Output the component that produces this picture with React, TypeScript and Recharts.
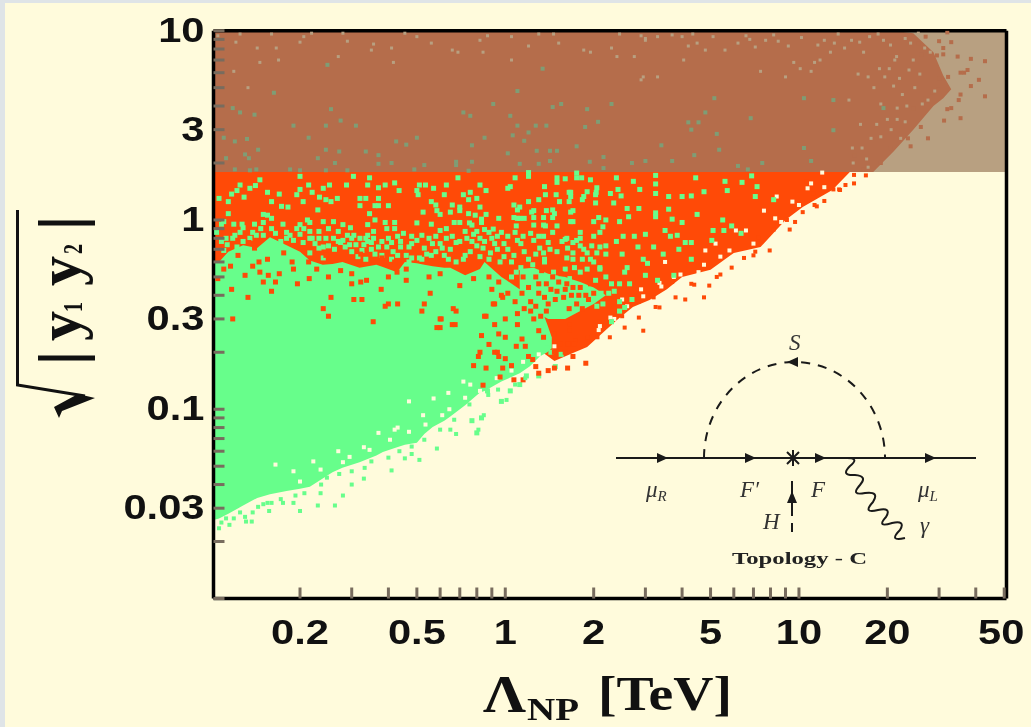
import { ComposedChart, XAxis, YAxis, Area, Scatter, ReferenceLine } from 'recharts';

type Pt = [number, number];

const xTicks = [0.2, 0.3, 0.4, 0.5, 0.6, 0.7, 0.8, 0.9, 1, 2, 3, 4, 5, 6, 7, 8, 9, 10, 20, 30, 40, 50];
const xLabels = [0.2, 0.5, 1, 2, 5, 10, 20, 50];
const yTicks = [0.01, 0.02, 0.03, 0.04, 0.05, 0.06, 0.07, 0.08, 0.09, 0.1, 0.2, 0.3, 0.4, 0.5, 0.6, 0.7, 0.8, 0.9, 1, 2, 3, 4, 5, 6, 7, 8, 9, 10];
const yLabels = [0.03, 0.1, 0.3, 1, 3, 10];

// brown / tan band
const bandX = [0.1015, 17.9, 21, 24.5, 28.7, 31, 33];
const brownLow = [1.79, 1.79, 2.3, 3.0, 4.0, 4.4, 4.9];
const brownHigh = [10, 10, 10, 9.7, 7.7, 5.8, 4.9];

// solid red region, lower edge
const redX = [0.1015, 0.85, 1.12, 1.31, 1.47, 1.7, 1.9, 2.2, 2.4, 2.72, 3.1, 3.55, 4, 5, 6, 7.4, 9, 10.3, 13, 14.9];
const redLow = [0.3, 0.3, 0.3, 0.205, 0.18, 0.198, 0.213, 0.262, 0.296, 0.347, 0.378, 0.43, 0.5, 0.545, 0.67, 0.72, 1, 1.17, 1.44, 1.79];

// solid green region
const greenX = [0.1016, 0.106, 0.114, 0.128, 0.143, 0.158, 0.18, 0.2, 0.216, 0.239, 0.258, 0.279, 0.319, 0.364, 0.383, 0.428, 0.455, 0.5, 0.53, 0.566, 0.62, 0.65, 0.73, 0.82, 0.85, 0.97, 1.01, 1.12, 1.21, 1.31, 1.39, 1.44];
const greenLow = [0.026, 0.0265, 0.028, 0.031, 0.034, 0.0355, 0.037, 0.038, 0.039, 0.043, 0.0465, 0.049, 0.0525, 0.057, 0.0595, 0.063, 0.065, 0.0665, 0.074, 0.0805, 0.087, 0.0915, 0.105, 0.1225, 0.125, 0.14, 0.144, 0.155, 0.168, 0.19, 0.2, 0.21];
const greenHigh = [0.6, 0.6, 0.68, 0.735, 0.71, 0.81, 0.735, 0.68, 0.61, 0.58, 0.585, 0.6, 0.56, 0.58, 0.565, 0.53, 0.6, 0.59, 0.58, 0.57, 0.56, 0.56, 0.51, 0.55, 0.6, 0.5, 0.48, 0.43, 0.4, 0.36, 0.28, 0.24];

// green patch inside the red/green web
const patchX = [1.12, 1.25, 1.4, 1.6, 1.8, 2, 2.2];
const patchLow = [0.3, 0.33, 0.3, 0.3, 0.33, 0.36, 0.4];
const patchHigh = [0.55, 0.56, 0.52, 0.5, 0.47, 0.44, 0.4];

const tanSpecks: Pt[] = [[.105,9.4],[.121,8.7],[.125,9.6],[.143,8.1],[.16,9.6],[.166,8.1],[.146,6.8],[.169,7],[.2,8.7],[.206,9.3],[.219,9.7],[.28,9.7],[.29,8.8],[.27,7.3],[.35,7.9],[.356,8.5],[.41,8.1],[.416,6.8],[.455,9.7],[.5,9.3],[.56,8.6],[.66,7.9],[.69,7.7],[.82,8.9],[.84,7.7],[.87,9.4],[1.05,9.3],[1.05,7],[.133,5],[.119,6.1],[1.2,8.3],[1.3,9.6],[1.46,9.6],[1.52,8.6],[1.85,7.9],[1.95,7.7],[2.3,8.1],[2.4,7.3],[2.45,9.6],[3.0,8.9],[3.3,9.3],[3.7,9.5],[4,9.3],[4.5,8.6],[4.8,7.9],[5.1,9.3],[5.6,7.9],[6.2,8.6],[7.1,8.2],[7.7,8.9],[9.6,6.8],[10.1,6.3],[11.3,6.8],[11.6,8.4],[12.8,7.7],[13.6,9.6],[15.1,8.9],[17.4,9.3],[18.8,6.3],[20.5,8.4],[23,9.1],[25.5,9.7],[28,7.7],[30.5,6.6],[22,5.6],[18,5],[14.8,4.3],[19,4.1],[20,3.4],[20.6,3],[23,3.3],[22.2,2.7],[17.6,2.7],[15.2,2.4],[16.4,2.4],[19,2.75],[17,2.1],[15.3,2],[17.2,1.9],[24.5,7],[22.5,4.6],[21,5.1],[24.8,5],[26.3,4.1],[29,4.8],[27.5,4.3],[11.8,7],[11,6.1],[9,5.7],[7.4,6.1],[4.05,7],[2.95,5.7],[2.9,5.5],[3.3,5.7],[2.75,7.3],
  [2.9,9.4],[3,9.1],[4.35,9.6],[4.2,8.3],[6.6,9.4],[6.8,9],[8.2,9.5],[8.5,8.8],[9.2,8.3],[10.2,9.2],[12.2,8.9],[13.2,8.6],[14.3,8.1],[16.1,8.7],[16.6,7.7],[18.6,9.6],[19.4,8.9],[21.5,7.3],[21.2,7],[24,8.6],[26.8,8.1],[27.6,8.9],[29.6,8.4],[30.8,9.3],[23.7,6.2],[25.8,5.9],[20.3,6.3],[17.2,5.7],[15.9,5.9],[19.6,5.7],[21.6,3.9],[23.3,4],[18.4,3.2],[21.6,3.4],[16.2,3.2]];

const mutedGreen: Pt[] = [[.248,6.6],[.163,4.7],[.118,3.9],[.125,3.7],[.14,3.6],[.255,3.85],[.19,3.15],[.245,3.15],[.275,3.35],[.31,3.15],[.11,2.72],[.12,2.6],[.132,2.68],[.144,2.35],[.214,2.72],[.245,2.35],[.272,2.3],[.112,2.12],[.13,2.22],[.134,2.12],[.23,2.12],[.263,2],[.335,2.3],[.37,2.2],[.37,1.98],[.41,2],[.425,2.6],[.46,2.5],[.5,2.72],[.72,3.7],[.76,3.55],[.91,4.1],[1.04,3.55],[.85,2.72],[1.06,2.8],[.77,2.48],[.68,2.03],[.77,2.03],[1.02,2.25],[.12,1.85],[.135,1.83],[.142,1.85],[.185,1.85],[.2,1.83],[.245,1.83],[.29,1.83],[.49,1.85],[.53,1.95],[.68,1.95],[.75,1.82],[1.34,6.3],[1.1,4.8],[1.55,4.1],[1.45,3.95],[1.9,3.85],[2.3,4.1],[2.07,3.3],[1.87,3.1],[1.27,3.15],[1.38,3.15],[1.1,3.15],[1.2,2.9],[1.16,2.62],[1.75,2.45],[1.28,2.32],[1.42,2.32],[1.5,2.32],[1.42,2.05],[1.3,1.98],[1.12,1.98],[1.94,2.03],[2.16,2.15],[2.16,1.88],[2.7,2],[3.0,2.05],[3.7,2.05],[4.4,2.2],[3.4,2.48],[4.2,3.28],[4.55,3.28],[4.3,3],[4.8,3.7],[5.15,4.4],[5.25,2.85],[5.35,2.35],[6.85,3.45],[6.2,1.93],[6.7,1.85],[7.5,2],[10.4,4.4],[13.1,4.3],[19.4,3.9],[13.1,2.98],[10.4,2.4],[11,2.05]];

const brownOutliers: Pt[] = [[43,4.5],[41,5.5],[38.5,5.1],[35.5,4.6],[35,4.3],[33,3.9],[32,3.85],[35.5,3.45],[31.2,3.35],[27.5,2.7],[23.5,2.7],[24,2.45],[26,3.1],[43,6.9],[38.5,7.1],[34.7,7.3],[31,7.5],[33,8.7],[31,8.1],[30,8.8],[29.5,7.4],[27,9.3],[25.5,8.6],[37.5,6.2],[35.5,6],[32.2,5.7],[32,9.8],[26.2,7.5],[30,5.6],[36.5,6],[29.8,4.9],[28.4,4.7],[24.5,3.9],[27,4.4],[20.5,2.4],[19,2],[16.6,1.85],[15.5,2.2]];

const greenInRed: Pt[] = [
  [.106,1.3],[.114,1.25],[.117,1.37],[.125,1.53],[.122,1.43],[.129,1.32],[.135,1.47],[.141,1.52],[.146,1.63],[.155,1.4],[.17,1.37],[.16,1.25],[.173,1.18],[.182,1.17],[.2,1.7],[.2,1.45],[.195,1.36],[.205,1.25],[.214,1.53],[.22,1.4],[.233,1.32],[.24,1.47],[.252,1.53],[.245,1.28],[.255,1.25],[.268,1.3],[.23,1.13],[.288,1.53],[.304,1.7],[.34,1.53],[.345,1.67],[.37,1.48],[.39,1.53],[.42,1.57],[.435,1.43],[.32,1.3],[.335,1.3],[.32,1.19],[.37,1.3],[.36,1.19],[.37,1.19],[.4,1.19],[.345,1.08],[.36,1],[.114,1.08],[.11,.98],[.119,.95],[.127,.95],[.108,.95],[.15,1.07],[.16,1.02],[.155,1.06],[.212,1],[.2,.945],[.216,.97],[.206,.9],[.26,.98],[.28,.945],[.24,.98],[.34,.945],[.39,.97],[.42,.97],[.297,.91],[.356,.87],
  [.12,.83],[.128,.91],[.14,.95],[.15,.97],[.147,.9],[.142,.83],[.175,.95],[.195,.9],[.185,.83],[.216,.87],[.232,.87],[.25,.9],[.27,.87],[.29,.83],[.305,.83],[.34,.83],[.356,.8],[.395,.9],[.42,.9],[.45,.85],[.108,.77],[.118,.8],[.128,.77],[.15,.83],[.16,.77],[.172,.77],[.216,.8],[.232,.8],[.27,.77],[.32,.8],[.34,.77],[.38,.77],[.4,.8],[.44,.77],[.245,.8],[.295,.74],[.335,.8],[.47,.72],[.11,.69],[.232,.71],[.25,.73],[.275,.76],[.3,.68],[.35,.7],[.38,.65],[.43,.65],[.216,.67],[.24,.63],[.325,.69],[.415,.68],
  [.51,1.53],[.5,1.43],[.505,1.36],[.535,1.53],[.57,1.47],[.63,1.53],[.69,1.67],[.76,1.4],[.82,1.53],[.8,1.3],[.86,1.43],[.72,1.36],[.75,1.28],[.62,1.36],[.56,1.25],[.58,1.2],[.66,1.2],[.7,1.17],[.82,1.17],[1.08,1.67],[1.04,1.5],[1.02,1.47],[1.2,1.78],[1.5,1.58],[1.6,1.65],[1.75,1.77],[1.95,1.63],[2.05,1.48],[2.04,1.4],[1.49,1.36],[1.53,1.25],[1.65,1.4],[1.65,1.25],[1.83,1.28],[2.03,1.36],[1.3,1.28],[1.2,1.25],[1.07,1.2],[1.12,1.17],[1.1,1.13],
  [.525,1.1],[.585,1.12],[.6,1.07],[.65,1.1],[.7,1.12],[.75,1.08],[.79,1.06],[.83,1.01],[.86,1.07],[.95,1.02],[1.07,1.03],[1.12,1.02],[1.16,1.02],[1.25,1.12],[1.25,1.03],[1.38,1.12],[1.35,1.03],[1.47,1.08],[1.7,1.12],[1.67,.98],[2.08,1.03],[2,.98],[2.15,.92],[.5,.965],[.56,.95],[.6,.88],[.63,.9],[.67,.97],[.7,.97],[.755,.965],[.77,.94],[.83,.97],[.91,.895],[.85,.89],[.8,.87],[1.09,.93],[1.25,.94],[1.35,.94],[1.5,.93],[.52,.83],[.66,.82],[.73,.87],[.97,.86],[1.08,.86],[1.22,.85],[1.35,.82],[1.45,.86],[1.62,.8],[1.8,.86],[2.1,.86],[1.75,.78],
  [.48,.75],[.53,.71],[.565,.75],[.6,.75],[.7,.77],[.77,.77],[.85,.77],[.9,.8],[.99,.75],[1.13,.75],[1.25,.78],[1.31,.71],[1.42,.7],[1.63,.71],[1.8,.73],[1.97,.73],[2.2,.73],[.48,.63],[.51,.63],[.56,.65],[.62,.65],[.65,.7],[.73,.65],[.82,.64],[.89,.67],[.94,.7],[.99,.64],[1.07,.65],[1.62,.63],[1.83,.62],[2.05,.67],[1.09,.53],[1.2,.53],[1.31,.52],[1.46,.53],[1.6,.55],[1.8,.53],[2.1,.55],[1.26,.47],[1.5,.46],[1.66,.49],[1.8,.45],[2.03,.48],
  [2.12,.41],[1.03,.44],[1.9,.37],[2.05,.35],[2.3,.29],[2.15,.36],[2.45,.33],[2.7,.38],[2.55,.345],[1.39,.21],[1.48,.168],[1.43,.2],[1.55,.195],[1.18,.15],[1.3,.15],[1.12,.135],[1.04,.125],[.97,.11],[.87,.125],[.83,.09],[.77,.087],[.8,.075],
  [1.2,1.7],[1.5,1.67],[1.75,1.67],[1.82,1.67],[2.39,1.67],[2.73,1.6],[3.25,1.72],[3.25,1.55],[4.45,1.67],[5.6,1.6],[6.4,1.58],[6.9,1.71],[7.2,1.5],[1.36,1.5],[1.67,1.4],[1.9,1.41],[2.28,1.38],[2.42,1.45],[2.87,1.45],[3.25,1.38],[2.48,1.34],[1.85,1.33],[1.67,1.33],[1.37,1.36],[3.6,1.33],[4,1.33],[4.3,1.34],[4.75,1.41],[5.7,1.43],[7.1,1.33],[8.2,1.28],
  [1.23,1.1],[1.45,1.13],[1.67,1.1],[2.03,1.23],[2.34,1.23],[2.85,1.15],[2.6,1.15],[3.25,1.09],[3.6,1.14],[4.5,1.07],[5.5,1],[5.9,.93],[4,.97],[3.7,1.01],[3.25,1.04],[2.63,1.04],[2.45,.98],[2.2,1],[1.7,.98],[1.45,1.03],[1.1,1.02],[1.37,.93],[5.1,.88],[5.55,.88],[6.35,.85],[3.5,.88],[3,.84],[2.75,.82],[2.52,.82],[2.39,.77],[2,.82],[1.8,.8],[1.6,.79],[1.3,.82],[3.85,.83],[3.65,.82],
  [5.05,.78],[4.3,.76],[4.1,.76],[3.2,.72],[3.9,.7],[2.83,.72],[2.1,.72],[1.85,.7],[1.7,.67],[1.35,.67],[3.45,.66],[2.5,.66],[2.2,.66],[2.95,.62],[4.3,.62],[3.05,.59],[1.7,.62],[1.95,.62],[2.6,.56],[2.1,.56],[3,.51],[3.75,.51],[3.3,.48],[2.55,.53],[2.3,.46],[2.45,.46],[2.65,.46],[2.25,.41],[2.45,.37],
  // denser patches of the transition band
  [.104,.86],[.113,.74],[.122,.72],[.135,.8],[.138,.86],[.165,.85],[.18,.86],[.19,.78],[.205,.76],[.225,.75],[.24,.72],[.262,.7],[.285,.72],[.31,.74],[.315,.64],[.335,.62],[.36,.66],[.37,.72],[.395,.72],[.41,.62],[.44,.72],[.46,.65],[.47,.6],[.52,.62],[.54,.66],[.58,.68],[.61,.71],[.64,.62],[.68,.6],[.72,.62],[.76,.68],[.8,.73],[.84,.71],[.88,.62],[.92,.75],[.96,.6],[1.02,.7],[1.05,.6],[1.1,.78],[1.16,.68],[1.2,.62],[1.27,.66],[1.36,.6],[1.5,.68],[1.56,.77],[1.72,.56],[1.9,.67],[1.05,.5],[1.13,.56],[1.17,.46],[1.24,.58],[1.36,.62],[1.9,.55],[2,.6],[2.2,.5],[2.35,.42],
  [.112,.8],[.125,.86],[.16,.9],[.18,.8],[.2,.84],[.22,.8],[.26,.8],[.28,.78],[.3,.8],[.33,.74],[.35,.76],[.41,.76],[.43,.82],[.48,.82],[.5,.78],[.55,.8],[.58,.82],[.63,.8],[.68,.76],[.74,.8],[.78,.84],[.82,.8],[.88,.86],[.94,.82],[1.02,.82],[1.15,.82],[1.4,.76],[1.7,.76]
];

const redInGreen: Pt[] = [
  [.116,.57],[.138,.57],[.146,.53],[.15,.47],[.13,.51],[.156,.51],[.188,.6],[.196,.46],[.214,.6],[.228,.55],[.215,.49],[.275,.54],[.3,.52],[.3,.46],[.322,.47],[.337,.48],[.378,.43],[.428,.53],[.46,.55],[.42,.6],[.176,.67],[.245,.65],[.322,.66],[.38,.63],[.14,.71],[.134,.76],[.155,.62],[.123,.65],[.105,.49],[.117,.43],[.133,.39],[.17,.52],[.165,.47],[.16,.42],[.255,.39],[.325,.38],[.24,.34],[.4,.36],[.43,.36],[.46,.48],
  [.25,.31],[.355,.29],[.39,.35],[.305,.38],[.118,.3],[.555,.41],[.53,.36],[.52,.33],[.6,.3],[.66,.28],[.6,.27],[.68,.33],[.86,.31],[.91,.36],[.97,.4],[.95,.25],[.88,.22],[.82,.2],[.94,.2],
  [.665,.34],[.605,.3],[.675,.28],[.585,.27],[.85,.31],[.92,.36],[1,.3],[.83,.245],[1,.24],[1.14,.235],[1.1,.28],[.92,.2],[.81,.19],[.78,.17],[.86,.165],[.95,.19],[1,.185],[1.05,.17],[.98,.165],[1.09,.215],[1.17,.215],[1.2,.19],[1.24,.183],[1.27,.168],[1.4,.16],[.96,.148],[1.07,.143],[1.15,.143],[.84,.134],[1.3,.155],
  [.98,.39],[1.16,.34],[1.25,.3],[1.32,.31],[1.38,.33],[1.47,.25],[1.35,.24],[1.54,.22],[1.64,.22],[1.72,.22],[1.47,.2],[1.6,.2],[1.7,.19],[1.88,.175],[1.63,.165],[1.47,.165],
  [.9,.43],[.95,.47],[1.02,.41],[1.08,.37],[1.14,.41],[.88,.5],[1,.52],[.78,.49],[.7,.45],[.6,.52],[.55,.5],[.4,.5],[.25,.5],[.19,.55],[.145,.6],[.11,.55],[1.22,.33],[1.3,.26],[1.1,.32],[.92,.28],
  [1.15,.5],[1.2,.44],[1.27,.5],[1.33,.54],[1.38,.46],[1.45,.5],[1.5,.42],[1.55,.52],[1.62,.46],[1.68,.4],[1.72,.5],[1.8,.44],[1.88,.4],[1.95,.46],[2,.41],[1.22,.37],[1.3,.41],[1.4,.36],[1.48,.38],[1.58,.39],[1.65,.34],[1.75,.36],[1.83,.34],[1.92,.38],[1.3,.46],[1.43,.43],[1.52,.47],[1.6,.43],[1.7,.44],[1.78,.4],[1.27,.35],[1.36,.39]
];

const redOutliers: Pt[] = [[16.9,1.72],[15.4,1.73],[15.4,1.56],[14.4,1.53],[13.7,1.45],[13.1,1.45],[12.2,1.26],[11.5,1.18],[11.2,1.38],[10.3,1.1],[9.3,.89],[8.2,.89],[9.1,1],[7.3,.81],[7.1,.68],[7,.65],[5.9,.56],[5.25,.5],[4.95,.45],[4.75,.39],[4.1,.38],[3.35,.345],[3.2,.39],[2.95,.26],[2.3,.29],[2.06,.24],[1.74,.23],[1.65,.28],[4.3,.46],[3.7,.47],[2.85,.37],[2.5,.31],[2.1,.29],[1.9,.24],[1.65,.26],[10.6,1.59],
  [13.8,1.44],[11.3,1.2],[9.7,.976],[7.95,.69],[6.5,.63],[5.4,.515],[4.4,.455],[3.8,.39],[3.25,.347],[2.85,.305],[2.55,.27],[2.27,.24]];

const creamHoles: Pt[] = [[12,1.78],[11,1.56],[10.7,1.47],[9.5,1.25],[8.4,1.33],[7.6,1.12],[8.3,1.02],[6.1,.88],[6.6,.88],[5.2,.75],[4.8,.69],[5.4,.64],[3.5,.6],[4.55,.53],[3.75,.5],[3.35,.465],[2.9,.43],[2.5,.38],[2.45,.33],[2.35,.3],[2.1,.275],[1.47,.215],[1.3,.195],[.37,.075],[.43,.08],[.47,.11],[.525,.093],[.57,.114],[.165,.051],[.222,.053],[.19,.047],[.27,.06],[.295,.056],[.33,.063],[.42,.078],[.64,.122],[.72,.14],[.76,.135],[.82,.125],[.61,.093],
  [.2,.0415],[.235,.048],[.28,.0525],[.345,.061],[.405,.069],[.47,.076],[.535,.083],[.645,.1],[.73,.115],[.935,.146],[1.05,.16],[1.15,.178],
  [12.2,1.49],[10,1.2],[8.7,.976],[7,.75],[5.8,.69],[4.75,.58],[3.95,.515],[3.4,.445],[2.95,.395],[2.6,.35],[2.28,.305],[2.08,.262]];

const greenOutliers: Pt[] = [[.106,.0235],[.115,.0245],[.131,.0255],[.137,.0255],[.138,.0285],[.125,.0285],[.157,.029],[.2,.029],[.23,.031],[.263,.031],[.28,.035],[.235,.036],[.33,.043],[.3,.04],[.41,.0475],[.51,.054],[.455,.055],[.585,.062],[.68,.074],[.81,.078],[.65,.078],[1.01,.112],[.845,.093],[.48,.058],[.175,.032],[.19,.032],[.155,.032],[.13,.027],
  [.108,.0252],[.112,.0265],[.119,.0265],[.144,.0305],[.15,.0315],[.16,.032],[.172,.0335],[.193,.035],[.207,.036],[.236,.04],[.247,.0435],[.272,.0455],[.3,.047],[.332,.049],[.35,.053],[.4,.0555],[.436,.06],[.48,.0635],[.53,.069],[.6,.078],[.67,.088],[.755,.106],[.875,.119],[.945,.127],[1.08,.135],[1.17,.146]];

const toPoints = (pts: Pt[]) => pts.map(([x, y]) => ({ x, y }));
const toBand = (xs: number[], lo: number[], hi: number[]) => xs.map((x, i) => ({ x, band: [lo[i], hi[i]] }));
const square = (size: number, fill: string) => (p: any) => (
  <rect x={p.cx - size / 2} y={p.cy - size / 2} width={size} height={size} fill={fill} />
);

const cream = '#FFFBDC';
const tickColor = '#786C5E';
const labelFont = { fontFamily: 'Liberation Sans', fontWeight: 700, fontSize: 35, fill: '#111', style: { filter: 'blur(0.5px)' } };
const serif = 'Liberation Serif';

function XTick({ x, y, payload }: any) {
  const v = payload.value;
  return (
    <g>
      <line x1={x} x2={x} y1={y - 11} y2={y} stroke={tickColor} strokeWidth={3} />
      {xLabels.includes(v) && (
        <text transform={`translate(${v === 50 ? x - 3 : x},${y + 45}) scale(1.19,1)`} textAnchor="middle" {...labelFont}>{v}</text>
      )}
    </g>
  );
}

function YTick({ x, y, payload }: any) {
  const v = payload.value;
  return (
    <g>
      <line x1={x} x2={x + 11} y1={y} y2={y} stroke={tickColor} strokeWidth={3} />
      {yLabels.includes(v) && (
        <text transform={`translate(${x - 9},${y + 11}) scale(1.19,1)`} textAnchor="end" {...labelFont}>{v}</text>
      )}
    </g>
  );
}

function Inset() {
  const ink = '#1a1a1a';
  const it = { fontFamily: serif, fontStyle: 'italic', fontSize: 23, fill: '#333' };
  const sub = { fontFamily: serif, fontStyle: 'italic', fontSize: 15, fill: '#333' };
  return (
    <g style={{ filter: 'blur(0.4px)' }}>
      <line x1={616} x2={976} y1={458} y2={458} stroke={ink} strokeWidth={2} />
      <path d="M704 458 A90.5 96 0 0 1 885 458" fill="none" stroke={ink} strokeWidth={2} strokeDasharray="9 8" />
      {[662, 750, 820, 930].map((a) => (
        <path key={a} d={`M${a + 6} 458 L${a - 5} 453 L${a - 5} 463 Z`} fill={ink} />
      ))}
      <path d="M787 362 L798 357 L798 367 Z" fill={ink} />
      <path d="M787 452 L799 464 M799 452 L787 464 M793 450 L793 466" stroke={ink} strokeWidth={2} />
      <line x1={792} x2={792} y1={481} y2={532} stroke={ink} strokeWidth={2} strokeDasharray="14 7" />
      <path d="M792 491 L787 503 L797 503 Z" fill={ink} />
      <path
        d="M847 458 Q860 458 850 466 Q840 476 855 475 Q868 476 860 485 Q850 496 865 493 Q880 491 873 502 Q862 514 878 510 Q892 507 886 517 Q876 528 892 523 Q906 520 900 530 Q888 542 905 538"
        fill="none" stroke={ink} strokeWidth={2}
      />
      <text x={646} y={497} {...it}>μ<tspan dy={4} {...sub}>R</tspan></text>
      <text x={740} y={497} {...it}>F′</text>
      <text x={811} y={497} {...it}>F</text>
      <text x={918} y={497} {...it}>μ<tspan dy={4} {...sub}>L</tspan></text>
      <text x={763} y={529} {...it}>H</text>
      <text x={789} y={350} {...it}>S</text>
      <text x={920} y={533} {...it}>γ</text>
      <text x={732} y={564} fontFamily={serif} fontWeight={700} fontSize={17} fill="#222" textLength={135} lengthAdjust="spacingAndGlyphs">Topology - C</text>
    </g>
  );
}

function AxisTitles() {
  const bold = { fontFamily: serif, fontWeight: 700, fill: '#111' };
  const rot = (x: number, y: number) => `translate(${x},${y}) rotate(-90)`;
  return (
    <g style={{ filter: 'blur(0.5px)' }}>
      <text x={483} y={712} {...bold} fontSize={52} textLength={43} lengthAdjust="spacingAndGlyphs">Λ</text>
      <text x={527} y={720} {...bold} fontSize={32} textLength={52} lengthAdjust="spacingAndGlyphs">NP</text>
      <text x={598} y={710} {...bold} fontSize={48} textLength={134} lengthAdjust="spacingAndGlyphs">[TeV]</text>
      <path d="M17.5 210 L17.5 385 L85 396" fill="none" stroke="#111" strokeWidth={3} />
      <path d="M95 398 L78 394 L54 407 L59 418 L62 411 Z" fill="#111" />
      <line x1={38} x2={95} y1={223} y2={223} stroke="#111" strokeWidth={5} />
      <line x1={38} x2={95} y1={358} y2={358} stroke="#111" strokeWidth={5} />
      <text transform={rot(80, 341)} {...bold} fontSize={62} textLength={30} lengthAdjust="spacingAndGlyphs">y</text>
      <text transform={rot(82, 312)} {...bold} fontSize={27} textLength={10} lengthAdjust="spacingAndGlyphs">1</text>
      <text transform={rot(80, 286)} {...bold} fontSize={62} textLength={30} lengthAdjust="spacingAndGlyphs">y</text>
      <text transform={rot(82, 254)} {...bold} fontSize={27} textLength={10} lengthAdjust="spacingAndGlyphs">2</text>
    </g>
  );
}

export default function App() {
  return (
    <div style={{ position: 'absolute', left: 0, top: 0, width: 1031, height: 727, background: '#DFE4E7', overflow: 'hidden' }}>
      <div style={{ position: 'absolute', left: 5, top: 3, right: 0, bottom: 0, background: cream }} />
      <div style={{ position: 'absolute', left: 0, top: 0 }}>
        <ComposedChart width={1031} height={727} margin={{ top: 30.7, right: 24.5, bottom: 127.5, left: 212.5 }}>
          <XAxis
            type="number"
            dataKey="x"
            scale="log"
            domain={[0.1015, 50.9]}
            allowDataOverflow
            ticks={xTicks}
            interval={0}
            height={1}
            tickSize={0}
            tickMargin={0}
            tickLine={false}
            tick={<XTick />}
            axisLine={{ stroke: '#000', strokeWidth: 3.5 }}
          />
          <YAxis
            type="number"
            dataKey="y"
            scale="log"
            domain={[0.01, 10]}
            allowDataOverflow
            ticks={yTicks}
            interval={0}
            width={1}
            tickSize={0}
            tickMargin={0}
            tickLine={false}
            tick={<YTick />}
            axisLine={{ stroke: '#000', strokeWidth: 3.5 }}
          />
          <Area data={toBand([0.1015, 50.9], [1.79, 1.79], [10, 10])} dataKey="band" fill="#B8A081" fillOpacity={1} stroke="none" dot={false} activeDot={false} isAnimationActive={false} />
          <Area data={toBand(bandX, brownLow, brownHigh)} dataKey="band" fill="#B56D4B" fillOpacity={1} stroke="none" dot={false} activeDot={false} isAnimationActive={false} />
          <Area data={toBand(redX, redLow, redX.map(() => 1.79))} dataKey="band" fill="#FF4A07" fillOpacity={1} stroke="none" dot={false} activeDot={false} isAnimationActive={false} />
          <Area data={toBand(greenX, greenLow, greenHigh)} dataKey="band" fill="#67FE8B" fillOpacity={1} stroke="none" dot={false} activeDot={false} isAnimationActive={false} />
          <Area data={toBand(patchX, patchLow, patchHigh)} dataKey="band" fill="#67FE8B" fillOpacity={1} stroke="none" dot={false} activeDot={false} isAnimationActive={false} />
          <Scatter data={toPoints(brownOutliers)} shape={square(4, '#B56D4B')} isAnimationActive={false} />
          <Scatter data={toPoints(tanSpecks)} shape={square(3, '#B8A081')} isAnimationActive={false} />
          <Scatter data={toPoints(mutedGreen)} shape={square(4, '#7F9D75')} isAnimationActive={false} />
          <Scatter data={toPoints(creamHoles)} shape={square(4, cream)} isAnimationActive={false} />
          <Scatter data={toPoints(redOutliers)} shape={square(4, '#FF4A07')} isAnimationActive={false} />
          <Scatter data={toPoints(greenInRed)} shape={square(5, '#67FE8B')} isAnimationActive={false} />
          <Scatter data={toPoints(redInGreen)} shape={square(5, '#FF4A07')} isAnimationActive={false} />
          <Scatter data={toPoints(greenOutliers)} shape={square(4, '#67FE8B')} isAnimationActive={false} />
          <ReferenceLine y={10} stroke="#000" strokeWidth={3.5} ifOverflow="visible" />
          <ReferenceLine x={50.9} stroke="#000" strokeWidth={3.5} ifOverflow="visible" />
        </ComposedChart>
      </div>
      <svg width={1031} height={727} style={{ position: 'absolute', left: 0, top: 0, pointerEvents: 'none' }}>
        <Inset />
        <AxisTitles />
      </svg>
    </div>
  );
}
